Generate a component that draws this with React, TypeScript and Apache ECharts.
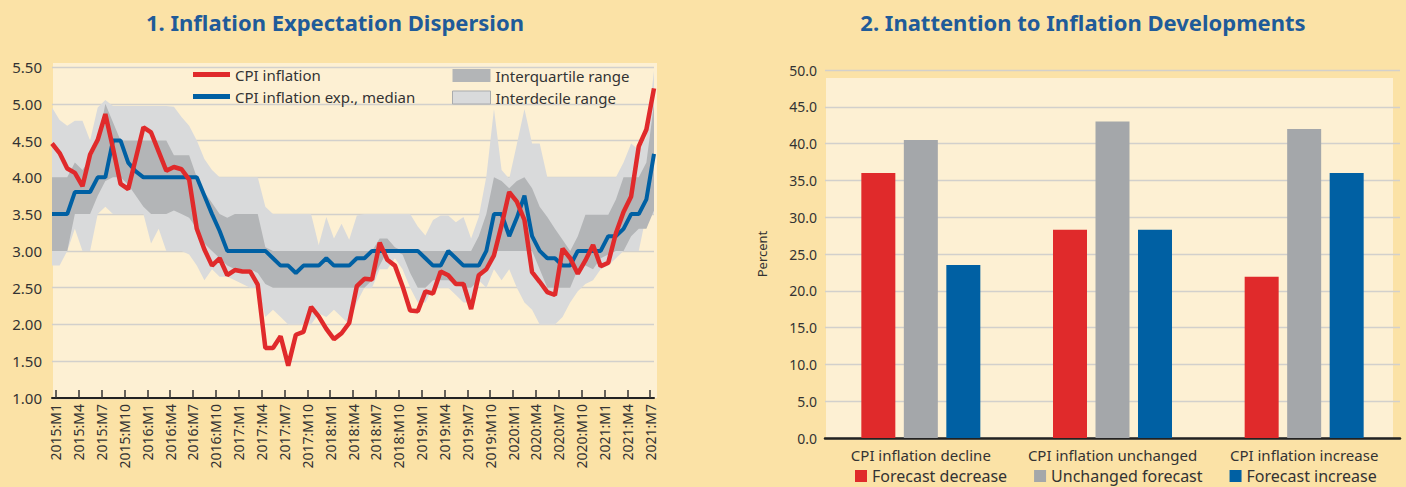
import { useEffect, useRef } from "react";
import * as echarts from "echarts";

// ---------- Panel 1 data (monthly, 2015:M1 .. 2021:M8) ----------
const tickLabels = [
  "2015:M1", "2015:M4", "2015:M7", "2015:M10",
  "2016:M1", "2016:M4", "2016:M7", "2016:M10",
  "2017:M1", "2017:M4", "2017:M7", "2017:M10",
  "2018:M1", "2018:M4", "2018:M7", "2018:M10",
  "2019:M1", "2019:M4", "2019:M7", "2019:M10",
  "2020:M1", "2020:M4", "2020:M7", "2020:M10",
  "2021:M1", "2021:M4", "2021:M7",
];

const cpiInflation = [
  4.46, 4.33, 4.12, 4.06, 3.88, 4.31, 4.51, 4.86, 4.40, 3.91,
  3.84, 4.26, 4.68, 4.61, 4.35, 4.09, 4.14, 4.11, 3.97, 3.30,
  3.02, 2.80, 2.90, 2.67, 2.74, 2.72, 2.72, 2.54, 1.68, 1.68,
  1.84, 1.44, 1.86, 1.90, 2.24, 2.11, 1.94, 1.80, 1.88, 2.02,
  2.52, 2.62, 2.61, 3.11, 2.88, 2.80, 2.52, 2.19, 2.18, 2.45,
  2.42, 2.72, 2.67, 2.55, 2.55, 2.21, 2.67, 2.75, 2.94, 3.35,
  3.80, 3.67, 3.42, 2.71, 2.58, 2.44, 2.40, 3.03, 2.90, 2.69,
  2.87, 3.08, 2.79, 2.84, 3.24, 3.53, 3.74, 4.42, 4.65, 5.21,
];

const expMedian = [
  3.50, 3.50, 3.50, 3.80, 3.80, 3.80, 4.00, 4.00, 4.50, 4.50,
  4.20, 4.08, 4.00, 4.00, 4.00, 4.00, 4.00, 4.00, 4.00, 4.00,
  3.75, 3.50, 3.27, 3.00, 3.00, 3.00, 3.00, 3.00, 3.00, 2.90,
  2.80, 2.80, 2.70, 2.80, 2.80, 2.80, 2.90, 2.80, 2.80, 2.80,
  2.90, 2.90, 3.00, 3.00, 3.00, 3.00, 3.00, 3.00, 3.00, 2.90,
  2.80, 2.80, 3.00, 2.90, 2.80, 2.80, 2.80, 3.00, 3.50, 3.50,
  3.20, 3.45, 3.75, 3.20, 3.00, 2.90, 2.90, 2.80, 2.80, 3.00,
  3.00, 3.00, 3.00, 3.20, 3.20, 3.30, 3.50, 3.50, 3.70, 4.32,
];

const iqLow = [
  3.00, 3.00, 3.00, 3.50, 3.50, 3.50, 3.75, 3.95, 4.00, 4.00,
  3.90, 3.75, 3.60, 3.50, 3.50, 3.50, 3.55, 3.50, 3.45, 3.30,
  3.10, 3.00, 2.90, 2.80, 2.75, 2.75, 2.75, 2.70, 2.55, 2.50,
  2.50, 2.50, 2.50, 2.50, 2.50, 2.50, 2.50, 2.50, 2.50, 2.50,
  2.50, 2.50, 2.60, 2.80, 3.00, 3.00, 2.95, 2.70, 2.50, 2.50,
  2.60, 2.60, 2.60, 2.55, 2.50, 2.50, 2.60, 2.80, 3.00, 3.00,
  3.00, 3.00, 3.00, 3.00, 2.75, 2.50, 2.50, 2.50, 2.50, 2.75,
  2.80, 2.75, 2.90, 2.95, 3.00, 3.00, 3.20, 3.30, 3.30, 3.55,
];

const iqHigh = [
  4.00, 4.00, 4.00, 4.20, 4.10, 4.25, 4.45, 5.00, 4.75, 4.50,
  4.50, 4.50, 4.50, 4.50, 4.50, 4.50, 4.30, 4.30, 4.30, 4.00,
  3.80, 3.65, 3.50, 3.45, 3.50, 3.50, 3.50, 3.50, 3.05, 3.00,
  3.00, 3.00, 3.00, 3.00, 3.00, 3.00, 3.00, 3.00, 3.00, 3.00,
  3.00, 3.00, 3.00, 3.17, 3.17, 3.05, 3.00, 3.00, 3.00, 3.00,
  3.00, 3.00, 3.00, 3.00, 3.00, 3.00, 3.20, 3.50, 4.00, 3.95,
  3.85, 3.95, 4.00, 3.85, 3.60, 3.46, 3.30, 3.15, 3.00, 3.20,
  3.49, 3.49, 3.49, 3.49, 3.70, 4.00, 4.00, 4.00, 4.20, 5.00,
];

const idLow = [
  2.80, 2.80, 3.00, 3.30, 3.00, 3.00, 3.50, 3.60, 3.50, 3.50,
  3.50, 3.50, 3.50, 3.10, 3.30, 3.00, 3.00, 3.00, 2.95, 2.80,
  2.60, 2.75, 2.65, 2.65, 2.60, 2.55, 2.50, 2.50, 2.10, 2.20,
  2.10, 2.00, 2.00, 2.00, 2.00, 2.15, 2.10, 2.20, 2.10, 2.00,
  2.30, 2.50, 2.50, 2.75, 2.75, 2.90, 2.75, 2.50, 2.30, 2.30,
  2.50, 2.50, 2.50, 2.40, 2.30, 2.30, 2.60, 2.50, 2.75, 2.60,
  2.75, 2.50, 2.30, 2.20, 2.00, 2.00, 2.00, 2.10, 2.30, 2.45,
  2.55, 2.60, 2.75, 2.80, 2.90, 3.00, 3.00, 3.00, 3.50, 3.50,
];

const idHigh = [
  4.95, 4.78, 4.70, 4.77, 4.77, 4.50, 4.95, 5.05, 4.97, 4.97,
  4.97, 4.97, 4.97, 4.97, 4.97, 4.97, 4.96, 4.82, 4.70, 4.50,
  4.25, 4.10, 4.00, 4.00, 4.00, 4.00, 4.00, 4.00, 3.60, 3.50,
  3.50, 3.50, 3.50, 3.50, 3.50, 3.08, 3.46, 3.17, 3.37, 3.15,
  3.48, 3.50, 3.50, 3.50, 3.50, 3.50, 3.50, 3.50, 3.33, 3.21,
  3.42, 3.48, 3.48, 3.39, 3.46, 3.17, 3.46, 4.01, 4.93, 4.10,
  3.98, 4.45, 4.93, 4.46, 4.46, 4.00, 4.00, 4.00, 4.00, 4.00,
  4.00, 4.00, 4.00, 4.00, 4.00, 4.20, 4.46, 4.37, 4.55, 5.45,
];

// ---------- Panel 2 data ----------
const barCategories = ["CPI inflation decline", "CPI inflation unchanged", "CPI inflation increase"];
const forecastDecrease = [36.0, 28.3, 21.9];
const unchangedForecast = [40.5, 43.0, 42.0];
const forecastIncrease = [23.5, 28.3, 36.0];

const RED = "#e02a2b";
const BLUE = "#0060a3";
const GREY_BAR = "#a4a7aa";
const IQ_COLOR = "#b3b5b7";
const ID_COLOR = "#d9dadb";
const PAGE_BG = "#fbe2a6";
const PLOT_BG = "#fdf0d3";
const TITLE = "#1f5b99";
const TXT = "#333333";
const FONT = "'Noto Sans', 'Open Sans', sans-serif";

export default function App() {
  const ref = useRef<HTMLDivElement>(null);

  useEffect(() => {
    document.body.style.margin = "0";
    const chart = echarts.init(ref.current as HTMLDivElement, null, { renderer: "svg" });

    const months = cpiInflation.map((_, i) => String(i));
    const idSpan = idHigh.map((h, i) => +(h - idLow[i]).toFixed(3));
    const iqSpan = iqHigh.map((h, i) => +(h - iqLow[i]).toFixed(3));
    const tickPos = tickLabels.map((_, j) => 0.5 + 3 * j);

    const bandBase = (name: string, stack: string, data: number[]) => ({
      name,
      type: "line",
      xAxisIndex: 0,
      yAxisIndex: 0,
      stack,
      data,
      symbol: "none",
      silent: true,
      lineStyle: { opacity: 0, width: 0 },
    });
    const band = (name: string, stack: string, data: number[], color: string) => ({
      name,
      type: "line",
      xAxisIndex: 0,
      yAxisIndex: 0,
      stack,
      data,
      symbol: "none",
      silent: true,
      itemStyle: { color },
      lineStyle: { opacity: 0, width: 0 },
      areaStyle: { color, opacity: 1 },
    });

    chart.setOption({
      animation: false,
      backgroundColor: PAGE_BG,
      textStyle: { fontFamily: FONT },
      graphic: [
        { type: "rect", z: -10, shape: { x: 53, y: 63, width: 604, height: 335 }, style: { fill: PLOT_BG } },
        { type: "rect", z: -10, shape: { x: 826, y: 78, width: 567, height: 360 }, style: { fill: PLOT_BG } },
        {
          type: "text", x: 335, y: 22,
          style: { text: "1. Inflation Expectation Dispersion", align: "center", verticalAlign: "middle", fill: TITLE, font: `bold 22px ${FONT}` },
        },
        {
          type: "text", x: 1083, y: 22,
          style: { text: "2. Inattention to Inflation Developments", align: "center", verticalAlign: "middle", fill: TITLE, font: `bold 22px ${FONT}` },
        },
      ],
      legend: [
        {
          data: [
            { name: "CPI inflation", icon: "rect" },
            { name: "CPI inflation exp., median", icon: "rect" },
          ],
          orient: "vertical",
          left: 188, top: 62,
          itemWidth: 37, itemHeight: 5, itemGap: 7,
          selectedMode: false,
          textStyle: { fontSize: 15, color: TXT, fontFamily: FONT },
        },
        {
          data: [
            { name: "Interquartile range", icon: "rect" },
            { name: "Interdecile range", icon: "rect", itemStyle: { borderColor: "#a9abad", borderWidth: 1 } },
          ],
          orient: "vertical",
          left: 447, top: 63,
          itemWidth: 38, itemHeight: 13, itemGap: 7,
          selectedMode: false,
          textStyle: { fontSize: 15, color: TXT, fontFamily: FONT },
        },
        {
          data: ["Forecast decrease", "Unchanged forecast", "Forecast increase"],
          orient: "horizontal",
          left: 850, top: 463,
          icon: "rect",
          itemWidth: 12, itemHeight: 12, itemGap: 27,
          selectedMode: false,
          textStyle: { fontSize: 16, lineHeight: 16, color: TXT, fontFamily: FONT },
        },
      ],
      grid: [
        { left: 52, top: 67, width: 602, height: 331, containLabel: false },
        { left: 825, top: 70, width: 575, height: 368, containLabel: false },
      ],
      xAxis: [
        {
          type: "category", gridIndex: 0, data: months, boundaryGap: false, show: false,
        },
        {
          type: "value", gridIndex: 0, min: 0, max: 79, position: "bottom",
          splitLine: { show: false },
          axisLine: { show: true, onZero: false, lineStyle: { color: "#222", width: 2 } },
          axisTick: { show: true, inside: true, length: 8, customValues: tickPos, lineStyle: { color: "#333", width: 1.5 } },
          axisLabel: {
            show: true, customValues: tickPos, rotate: 90, fontSize: 14, color: TXT, margin: 6,
            formatter: (v: number) => tickLabels[Math.round((v - 0.5) / 3)] ?? "",
          },
        },
        {
          type: "category", gridIndex: 1, data: barCategories,
          axisLine: { lineStyle: { color: "#222", width: 2.5 } },
          axisTick: { show: false },
          axisLabel: { fontSize: 15, color: TXT, margin: 9, interval: 0 },
        },
      ],
      yAxis: [
        {
          type: "value", gridIndex: 0, min: 1, max: 5.5, interval: 0.5,
          axisLine: { show: false }, axisTick: { show: false },
          splitLine: { lineStyle: { color: "#d2d0cc", width: 1.3 } },
          axisLabel: { fontSize: 15, color: TXT, margin: 10, formatter: (v: number) => v.toFixed(2) },
        },
        {
          type: "value", gridIndex: 1, min: 0, max: 50, interval: 5,
          name: "Percent", nameLocation: "middle", nameGap: 57,
          nameTextStyle: { fontSize: 13, color: TXT },
          axisLine: { show: false }, axisTick: { show: false },
          splitLine: { lineStyle: { color: "#d2d0cc", width: 1.3 } },
          axisLabel: { fontSize: 14, color: TXT, margin: 8, formatter: (v: number) => v.toFixed(1) },
        },
      ],
      series: [
        bandBase("idBase", "id", idLow),
        band("Interdecile range", "id", idSpan, ID_COLOR),
        bandBase("iqBase", "iq", iqLow),
        band("Interquartile range", "iq", iqSpan, IQ_COLOR),
        {
          name: "CPI inflation", type: "line", xAxisIndex: 0, yAxisIndex: 0,
          data: cpiInflation, symbol: "none", itemStyle: { color: RED },
          lineStyle: { color: RED, width: 4.5 }, z: 4,
        },
        {
          name: "CPI inflation exp., median", type: "line", xAxisIndex: 0, yAxisIndex: 0,
          data: expMedian, symbol: "none", itemStyle: { color: BLUE },
          lineStyle: { color: BLUE, width: 4 }, z: 3,
        },
        {
          name: "Forecast decrease", type: "bar", xAxisIndex: 2, yAxisIndex: 1,
          data: forecastDecrease, barWidth: 34, barGap: "25%", itemStyle: { color: RED },
        },
        {
          name: "Unchanged forecast", type: "bar", xAxisIndex: 2, yAxisIndex: 1,
          data: unchangedForecast, barWidth: 34, barGap: "25%", itemStyle: { color: GREY_BAR },
        },
        {
          name: "Forecast increase", type: "bar", xAxisIndex: 2, yAxisIndex: 1,
          data: forecastIncrease, barWidth: 34, barGap: "25%", itemStyle: { color: BLUE },
        },
      ],
    });

    return () => chart.dispose();
  }, []);

  return <div ref={ref} style={{ width: 1406, height: 487, position: "absolute", left: 0, top: 0 }} />;
}
